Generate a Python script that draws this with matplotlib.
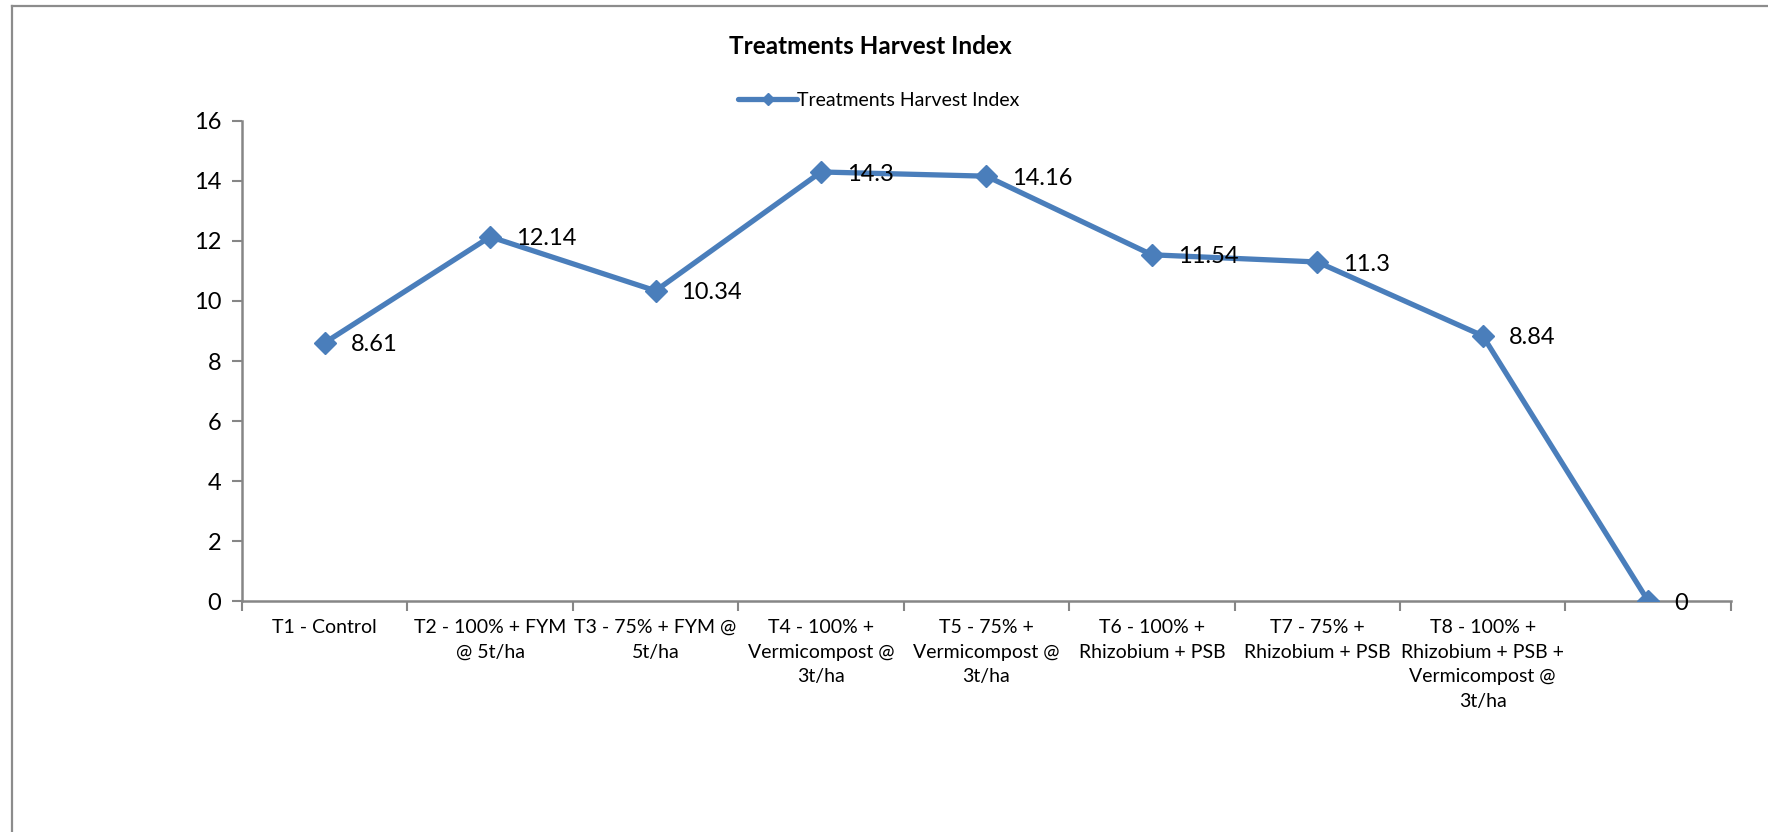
import matplotlib
matplotlib.use("Agg")
import matplotlib.pyplot as plt
from matplotlib.lines import Line2D
from matplotlib.ticker import FixedLocator

categories = [
    "T1 - Control",
    "T2 - 100% + FYM\n@ 5t/ha",
    "T3 - 75% + FYM @\n5t/ha",
    "T4 - 100% +\nVermicompost @\n3t/ha",
    "T5 - 75% +\nVermicompost @\n3t/ha",
    "T6 - 100% +\nRhizobium + PSB",
    "T7 - 75% +\nRhizobium + PSB",
    "T8 - 100% +\nRhizobium + PSB +\nVermicompost @\n3t/ha",
    "",
]
harvest_index = [8.61, 12.14, 10.34, 14.3, 14.16, 11.54, 11.3, 8.84, 0]
value_labels = ["8.61", "12.14", "10.34", "14.3", "14.16", "11.54", "11.3", "8.84", "0"]
y_ticks = [0, 2, 4, 6, 8, 10, 12, 14, 16]
series_name = "Treatments Harvest Index"
title = "Treatments Harvest Index"

plt.rcParams['font.family'] = ['Lato', 'DejaVu Sans']
LINE = "#4A7EBB"
AXC = "#868686"

fig = plt.figure(figsize=(17.68, 8.32), dpi=100)
ax = fig.add_axes([0.1369, 0.2776, 0.979 - 0.1369, 0.8546 - 0.2776])

x = list(range(len(categories)))
ax.plot(x, harvest_index, color=LINE, lw=3.8, marker='D', markersize=11,
        markerfacecolor=LINE, markeredgecolor=LINE, label=series_name,
        solid_joinstyle='round', solid_capstyle='round', zorder=3)

for xi, yi, lab in zip(x, harvest_index, value_labels):
    ax.annotate(lab, (xi, yi), xytext=(18.5, -1.5), textcoords='offset points',
                ha='left', va='center', fontsize=17, color='black', zorder=4)

ax.set_xlim(-0.5, len(categories) - 0.5)
ax.set_ylim(0, 16)
ax.set_yticks(y_ticks)
ax.set_yticklabels([str(v) for v in y_ticks], fontsize=17)

ax.set_xticks(x)
ax.set_xticklabels(categories, fontsize=14, linespacing=1.55, va='top')
ax.tick_params(axis='x', which='major', length=0, pad=13)
ax.xaxis.set_minor_locator(FixedLocator([i - 0.5 for i in range(len(categories) + 1)]))
ax.tick_params(axis='x', which='minor', length=7, width=1.5, color=AXC, direction='out')
ax.tick_params(axis='y', which='major', length=7, width=1.5, color=AXC, direction='out', pad=8)

for s in ['top', 'right']:
    ax.spines[s].set_visible(False)
for s in ['left', 'bottom']:
    ax.spines[s].set_color(AXC)
    ax.spines[s].set_linewidth(1.8)

fig.text(0.4925, 0.944, title, ha='center', va='center', fontsize=17.5, fontweight='bold')

handles, labels = ax.get_legend_handles_labels()
fig.legend(handles, labels, loc='center', bbox_to_anchor=(0.497, 0.879), frameon=False,
           fontsize=14, handlelength=3.0, handletextpad=0.0, borderpad=0, markerscale=0.6)

# outer chart border (left and top visible)
fig.add_artist(Line2D([11.5 / 1768, 11.5 / 1768], [0, 1 - 5.5 / 832],
                      transform=fig.transFigure, color="#8C8C8C", lw=1.6))
fig.add_artist(Line2D([11.5 / 1768, 1], [1 - 5.5 / 832, 1 - 5.5 / 832],
                      transform=fig.transFigure, color="#8C8C8C", lw=1.6))

fig.savefig("out.png", dpi=100, facecolor='white')
